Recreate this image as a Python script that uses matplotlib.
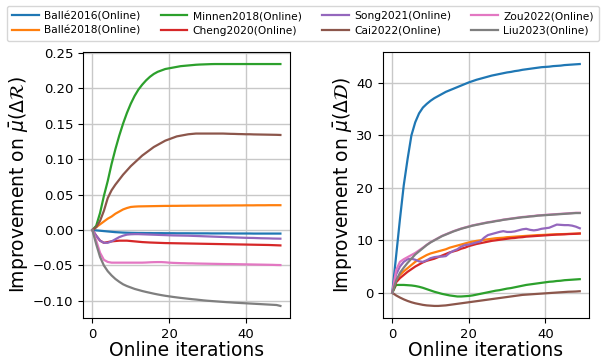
import numpy as np
import matplotlib
matplotlib.use("Agg")
import matplotlib.pyplot as plt

iters = np.arange(50)

labels = ["Ballé2016(Online)", "Ballé2018(Online)", "Minnen2018(Online)", "Cheng2020(Online)",
          "Song2021(Online)", "Cai2022(Online)", "Zou2022(Online)", "Liu2023(Online)"]
colors = ["#1f77b4", "#ff7f0e", "#2ca02c", "#d62728", "#9467bd", "#8c564b", "#e377c2", "#7f7f7f"]

# --- improvement on mean delta R (left) ---
balle16_r = [0, -0.0005, -0.001, -0.0015, -0.002, -0.0025, -0.003, -0.0033, -0.0036, -0.0038,
             -0.004, -0.0041, -0.0042, -0.0042, -0.0043, -0.0043, -0.0044, -0.0044, -0.0044, -0.0045,
             -0.0045, -0.0045, -0.0046, -0.0046, -0.0046, -0.0046, -0.0047, -0.0047, -0.0047, -0.0047,
             -0.0047, -0.0048, -0.0048, -0.0048, -0.0048, -0.0048, -0.0049, -0.0049, -0.0049, -0.0049,
             -0.0049, -0.0049, -0.005, -0.005, -0.005, -0.005, -0.005, -0.005, -0.005, -0.005]
balle18_r = [0, 0.004, 0.008, 0.012, 0.016, 0.019, 0.023, 0.026, 0.029, 0.031,
             0.0325, 0.033, 0.0333, 0.0334, 0.0335, 0.0336, 0.0337, 0.0338, 0.0339, 0.034,
             0.034, 0.0341, 0.0341, 0.0342, 0.0342, 0.0343, 0.0343, 0.0343, 0.0344, 0.0344,
             0.0344, 0.0345, 0.0345, 0.0345, 0.0346, 0.0346, 0.0346, 0.0347, 0.0347, 0.0347,
             0.0348, 0.0348, 0.0348, 0.0349, 0.0349, 0.0349, 0.035, 0.035, 0.035, 0.035]
minnen_r = [0, 0.006, 0.024, 0.048, 0.069, 0.093, 0.114, 0.133, 0.15, 0.165,
            0.178, 0.189, 0.198, 0.205, 0.211, 0.216, 0.22, 0.223, 0.225, 0.227,
            0.228, 0.229, 0.230, 0.231, 0.2315, 0.232, 0.2325, 0.233, 0.2333, 0.2335,
            0.2337, 0.2339, 0.234, 0.234, 0.234, 0.234, 0.234, 0.234, 0.234, 0.234,
            0.234, 0.234, 0.234, 0.234, 0.234, 0.234, 0.234, 0.234, 0.234, 0.234]
cheng_r = [0, -0.008, -0.015, -0.018, -0.017, -0.016, -0.0155, -0.015, -0.015, -0.015,
           -0.0155, -0.016, -0.0165, -0.017, -0.0173, -0.0176, -0.0178, -0.018, -0.0182, -0.0184,
           -0.0185, -0.0186, -0.0187, -0.0188, -0.0189, -0.019, -0.0191, -0.0192, -0.0193, -0.0194,
           -0.0195, -0.0196, -0.0197, -0.0198, -0.0199, -0.02, -0.0201, -0.0202, -0.0203, -0.0204,
           -0.0205, -0.0206, -0.0207, -0.0208, -0.0209, -0.021, -0.0211, -0.0213, -0.0215, -0.0217]
song_r = [0, -0.008, -0.015, -0.018, -0.018, -0.016, -0.013, -0.01, -0.008, -0.0065,
          -0.006, -0.0058, -0.0058, -0.006, -0.0062, -0.0064, -0.0066, -0.0068, -0.007, -0.0072,
          -0.0074, -0.0076, -0.0077, -0.0078, -0.0079, -0.008, -0.0082, -0.0084, -0.0086, -0.0088,
          -0.009, -0.0092, -0.0094, -0.0096, -0.0098, -0.01, -0.0102, -0.0104, -0.0106, -0.0108,
          -0.011, -0.0111, -0.0112, -0.0114, -0.0116, -0.0117, -0.0118, -0.012, -0.0121, -0.0122]
cai_r = [0, 0.004, 0.013, 0.027, 0.045, 0.056, 0.064, 0.071, 0.078, 0.084,
         0.09, 0.095, 0.1, 0.105, 0.109, 0.113, 0.117, 0.12, 0.123, 0.126,
         0.128, 0.13, 0.132, 0.133, 0.134, 0.135, 0.1355, 0.136, 0.136, 0.136,
         0.136, 0.136, 0.136, 0.136, 0.136, 0.1358, 0.1356, 0.1355, 0.1353, 0.1352,
         0.135, 0.135, 0.1348, 0.1347, 0.1346, 0.1345, 0.1344, 0.1343, 0.1342, 0.134]
zou_r = [0, -0.015, -0.032, -0.042, -0.045, -0.046, -0.046, -0.046, -0.046, -0.046,
         -0.046, -0.046, -0.046, -0.046, -0.0458, -0.0455, -0.0453, -0.0452, -0.0452, -0.0455,
         -0.046, -0.0463, -0.0465, -0.0467, -0.0468, -0.047, -0.047, -0.0472, -0.0473, -0.0474,
         -0.0475, -0.0476, -0.0477, -0.0478, -0.0479, -0.048, -0.048, -0.0481, -0.0482, -0.0483,
         -0.0484, -0.0485, -0.0486, -0.0487, -0.0488, -0.0489, -0.049, -0.0491, -0.0493, -0.0494]
liu_r = [0, -0.02, -0.038, -0.05, -0.058, -0.064, -0.069, -0.073, -0.0765, -0.079,
         -0.081, -0.083, -0.0845, -0.086, -0.0873, -0.0885, -0.0897, -0.0908, -0.0918, -0.0927,
         -0.0935, -0.0943, -0.095, -0.0957, -0.0963, -0.0969, -0.0975, -0.098, -0.0986, -0.0992,
         -0.0997, -0.1001, -0.1005, -0.1009, -0.1013, -0.1017, -0.102, -0.1024, -0.1027, -0.103,
         -0.1033, -0.1036, -0.1039, -0.1042, -0.1045, -0.1048, -0.1051, -0.1054, -0.1057, -0.107]

# --- improvement on mean delta D (right) ---
balle16_d = [0, 7, 14, 20.5, 25.5, 30, 32.5, 34.2, 35.3, 36,
             36.6, 37.1, 37.5, 37.9, 38.3, 38.6, 38.9, 39.2, 39.5, 39.8,
             40.1, 40.35, 40.6, 40.8, 41.0, 41.2, 41.4, 41.55, 41.7, 41.85,
             42.0, 42.1, 42.25, 42.35, 42.5, 42.6, 42.7, 42.8, 42.9, 43.0,
             43.05, 43.1, 43.2, 43.25, 43.3, 43.4, 43.45, 43.5, 43.55, 43.6]
balle18_d = [0, 2.5, 3.4, 4.1, 4.7, 5.3, 5.9, 6.4, 6.8, 7.2,
             7.5, 7.7, 7.9, 8.1, 8.3, 8.6, 8.8, 9.0, 9.2, 9.4,
             9.6, 9.75, 9.9, 10.0, 10.1, 10.2, 10.3, 10.4, 10.45, 10.5,
             10.6, 10.65, 10.7, 10.75, 10.8, 10.85, 10.9, 10.95, 11.0, 11.02,
             11.05, 11.1, 11.12, 11.15, 11.18, 11.2, 11.22, 11.25, 11.28, 11.3]
minnen_d = [0, 1.5, 1.5, 1.5, 1.45, 1.4, 1.3, 1.15, 0.95, 0.7,
            0.45, 0.2, 0.0, -0.2, -0.35, -0.5, -0.6, -0.7, -0.7, -0.65,
            -0.6, -0.5, -0.35, -0.2, -0.05, 0.1, 0.25, 0.4, 0.5, 0.65,
            0.8, 0.9, 1.05, 1.2, 1.35, 1.5, 1.6, 1.7, 1.8, 1.9,
            2.0, 2.1, 2.15, 2.25, 2.3, 2.4, 2.45, 2.5, 2.55, 2.6]
cheng_d = [0, 2.0, 2.8, 3.4, 4.0, 4.5, 5.0, 5.4, 5.8, 6.1,
           6.3, 6.5, 6.8, 7.1, 7.4, 7.7, 7.9, 8.1, 8.4, 8.6,
           8.9, 9.1, 9.3, 9.45, 9.6, 9.75, 9.9, 10.0, 10.1, 10.2,
           10.3, 10.4, 10.45, 10.55, 10.6, 10.7, 10.75, 10.8, 10.85, 10.9,
           10.95, 11.0, 11.05, 11.1, 11.12, 11.15, 11.2, 11.22, 11.25, 11.3]
song_d = [0, 3.5, 5.0, 5.9, 6.4, 6.5, 6.3, 6.0, 5.9, 6.2,
          6.6, 6.8, 6.9, 6.9, 7.0, 7.6, 8.0, 8.3, 8.8, 9.1,
          9.2, 9.4, 9.6, 9.8, 10.5, 11.0, 11.2, 11.4, 11.6, 11.75,
          11.6, 11.6, 11.7, 11.9, 12.1, 12.2, 12.0, 11.9, 12.0, 12.2,
          12.3, 12.4, 12.7, 13.0, 12.95, 12.9, 12.9, 12.8, 12.6, 12.3]
cai_d = [0, -0.5, -0.9, -1.25, -1.55, -1.8, -2.0, -2.15, -2.3, -2.4,
         -2.45, -2.5, -2.5, -2.45, -2.4, -2.3, -2.2, -2.1, -2.0, -1.9,
         -1.8, -1.7, -1.6, -1.5, -1.4, -1.3, -1.2, -1.1, -1.0, -0.9,
         -0.8, -0.7, -0.6, -0.5, -0.4, -0.35, -0.3, -0.25, -0.2, -0.15,
         -0.1, -0.05, 0.0, 0.05, 0.1, 0.15, 0.2, 0.22, 0.25, 0.3]
zou_d = [0, 4.3, 5.9, 6.4, 6.8, 7.2, 7.6, 8.1, 8.6, 9.15,
         9.65, 10.05, 10.45, 10.85, 11.15, 11.45, 11.75, 12.0, 12.25, 12.45,
         12.65, 12.85, 13.0, 13.15, 13.3, 13.45, 13.55, 13.7, 13.8, 13.95,
         14.05, 14.15, 14.25, 14.35, 14.45, 14.5, 14.6, 14.65, 14.75, 14.8,
         14.85, 14.9, 14.95, 15.0, 15.05, 15.1, 15.15, 15.2, 15.25, 15.25]
liu_d = [0, 2.3, 3.8, 4.8, 5.7, 6.5, 7.3, 7.9, 8.5, 9.1,
         9.6, 10.0, 10.4, 10.8, 11.1, 11.4, 11.7, 11.95, 12.2, 12.4,
         12.6, 12.8, 12.95, 13.1, 13.25, 13.4, 13.5, 13.65, 13.75, 13.9,
         14.0, 14.1, 14.2, 14.3, 14.4, 14.45, 14.55, 14.6, 14.7, 14.75,
         14.8, 14.85, 14.9, 14.95, 15.0, 15.05, 15.1, 15.15, 15.2, 15.2]

rate_series = [balle16_r, balle18_r, minnen_r, cheng_r, song_r, cai_r, zou_r, liu_r]
dist_series = [balle16_d, balle18_d, minnen_d, cheng_d, song_d, cai_d, zou_d, liu_d]

fig = plt.figure(figsize=(6.03, 3.62), dpi=100)
ax1 = fig.add_axes([0.1376, 0.1215, 0.343, 0.735])
ax2 = fig.add_axes([0.635, 0.1215, 0.342, 0.735])

for ys, lab, c in zip(rate_series, labels, colors):
    ax1.plot(iters, ys, color=c, lw=1.6, label=lab)
for ys, lab, c in zip(dist_series, labels, colors):
    ax2.plot(iters, ys, color=c, lw=1.6)

ax1.set_ylabel(r"Improvement on $\bar{\mu}(\Delta\mathcal{R})$", fontsize=13.5, labelpad=2)
ax2.set_ylabel(r"Improvement on $\bar{\mu}(\Delta\mathcal{D})$", fontsize=13.5, labelpad=2)
for ax in (ax1, ax2):
    ax.set_xlabel("Online iterations", fontsize=13.5, labelpad=0)
    ax.tick_params(labelsize=9.5)
    ax.grid(True, color="#c8c8c8", lw=1.0)
    ax.set_xticks([0, 20, 40])

fig.legend(loc="upper center", bbox_to_anchor=(0.5025, 0.99), ncol=4, fontsize=7.7,
           handlelength=2.5, handletextpad=0.5, columnspacing=1.9, borderpad=0.5,
           labelspacing=0.45, borderaxespad=0.2)

fig.savefig("out.png", dpi=100)
